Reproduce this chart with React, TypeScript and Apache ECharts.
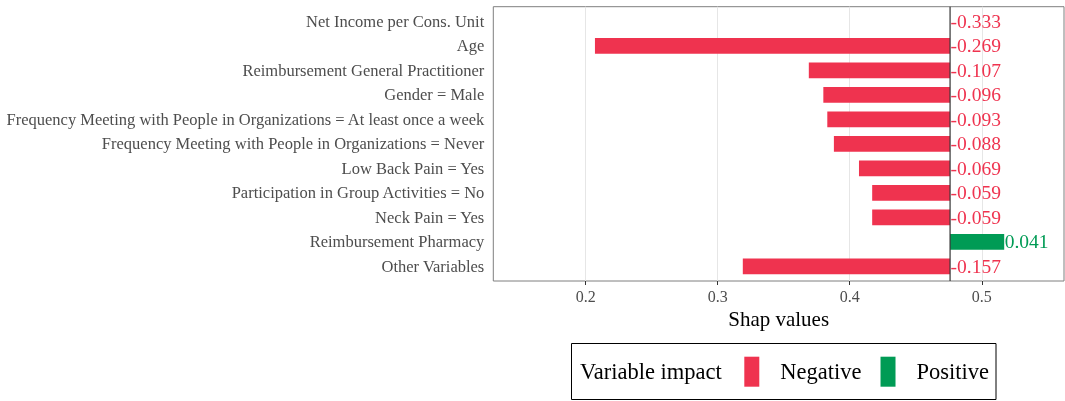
import React, { useEffect, useRef } from "react";
import * as echarts from "echarts";

const categories = [
  "Net Income per Cons. Unit",
  "Age",
  "Reimbursement General Practitioner",
  "Gender = Male",
  "Frequency Meeting with People in Organizations = At least once a week",
  "Frequency Meeting with People in Organizations = Never",
  "Low Back Pain = Yes",
  "Participation in Group Activities = No",
  "Neck Pain = Yes",
  "Reimbursement Pharmacy",
  "Other Variables",
];
const shapValues = [-0.333, -0.269, -0.107, -0.096, -0.093, -0.088, -0.069, -0.059, -0.059, 0.041, -0.157];
const showBar = [false, true, true, true, true, true, true, true, true, true, true];
const baseline = 0.476;
const xTicks = [0.2, 0.3, 0.4, 0.5];
const xMin = 0.13;
const xMax = 0.5623;

const RED = "#ef334f";
const GREEN = "#009b55";
const FONT = "Liberation Serif";

export default function App() {
  const ref = useRef<HTMLDivElement>(null);
  useEffect(() => {
    if (!ref.current) return;
    const chart = echarts.init(ref.current, null, { renderer: "svg" });

    const makeData = (positive: boolean) =>
      categories
        .map((c, i) => ({ i, v: shapValues[i] }))
        .filter((d) => (d.v > 0) === positive)
        .map((d) => [d.v, d.i]);

    const renderItem = (color: string) => (params: any, api: any) => {
      const v = api.value(0);
      const i = api.value(1);
      const p0 = api.coord([baseline, i]);
      const p1 = api.coord([baseline + v, i]);
      const band = api.size([0, 1])[1];
      const h = band * 0.64;
      const x0 = Math.min(p0[0], p1[0]);
      const x1 = Math.max(p0[0], p1[0]);
      const children: any[] = [];
      if (showBar[i]) {
        children.push({
          type: "rect",
          shape: { x: x0, y: p0[1] - h / 2, width: x1 - x0, height: h },
          style: { fill: color },
        });
      }
      children.push({
        type: "text",
        x: x1 + 0.5,
        y: p0[1],
        style: {
          text: v.toFixed(3),
          fill: color,
          font: `19.5px ${FONT}`,
          verticalAlign: "middle",
          align: "left",
        },
      });
      return { type: "group", children };
    };

    const panel = { left: 493.3, right: 1, top: 6.7, bottom: 120 };
    const pad = 2.45;

    chart.setOption({
      animation: false,
      textStyle: { fontFamily: FONT },
      grid: [
        { ...panel, show: true, borderColor: "#7f7f7f", borderWidth: 1, backgroundColor: "#fff" },
        { left: panel.left, right: panel.right, top: panel.top + pad, bottom: panel.bottom + pad },
      ],
      xAxis: [
        {
          type: "value",
          gridIndex: 0,
          min: xMin,
          max: xMax,
          name: "Shap values",
          nameLocation: "middle",
          nameGap: 19,
          nameTextStyle: { fontSize: 21, color: "#000", fontFamily: FONT },
          axisLine: { show: false },
          axisTick: { show: true, customValues: xTicks, length: 4, lineStyle: { color: "#333" } },
          axisLabel: {
            customValues: xTicks,
            fontSize: 16,
            color: "#4d4d4d",
            margin: 7,
            fontFamily: FONT,
          },
          splitLine: { show: true, lineStyle: { color: "#e6e6e6", width: 1 } },
        },
        {
          type: "value",
          gridIndex: 1,
          min: xMin,
          max: xMax,
          show: false,
          splitLine: { show: false },
        },
      ],
      yAxis: [
        { type: "value", gridIndex: 0, min: 0, max: 1, show: false, splitLine: { show: false } },
        {
          type: "category",
          gridIndex: 1,
          data: categories,
          inverse: true,
          axisLine: { show: false },
          axisTick: { show: false },
          splitLine: { show: false },
          axisLabel: { fontSize: 16.5, color: "#4d4d4d", margin: 9, fontFamily: FONT },
        },
      ],
      legend: {
        data: ["Negative", "Positive"],
        left: 744.3,
        top: 356.7,
        orient: "horizontal",
        padding: 0,
        itemWidth: 15,
        itemHeight: 30,
        itemGap: 19,
        icon: "rect",
        textStyle: { fontSize: 22.5, color: "#000", fontFamily: FONT, padding: [0, 0, 0, 16] },
      },
      graphic: [
        {
          type: "rect",
          z: -1,
          shape: { x: 571.5, y: 343.5, width: 424.5, height: 56 },
          style: { fill: "#fff", stroke: "#000", lineWidth: 1 },
        },
        {
          type: "text",
          x: 580,
          y: 371.7,
          style: { text: "Variable impact", font: `22.5px ${FONT}`, fill: "#000", verticalAlign: "middle" },
        },
      ],
      series: [
        {
          name: "baseline",
          type: "line",
          xAxisIndex: 0,
          yAxisIndex: 0,
          data: [
            [baseline, 0],
            [baseline, 1],
          ],
          symbol: "none",
          silent: true,
          lineStyle: { color: "#333", width: 1.2 },
          z: 5,
        },
        {
          name: "Negative",
          type: "custom",
          xAxisIndex: 1,
          yAxisIndex: 1,
          itemStyle: { color: RED },
          encode: { x: 0, y: 1 },
          data: makeData(false),
          renderItem: renderItem(RED),
          z: 3,
        },
        {
          name: "Positive",
          type: "custom",
          xAxisIndex: 1,
          yAxisIndex: 1,
          itemStyle: { color: GREEN },
          encode: { x: 0, y: 1 },
          data: makeData(true),
          renderItem: renderItem(GREEN),
          z: 3,
        },
      ],
    });
    return () => chart.dispose();
  }, []);
  return <div ref={ref} style={{ position: "fixed", left: 0, top: 0, width: 1065, height: 401 }} />;
}
